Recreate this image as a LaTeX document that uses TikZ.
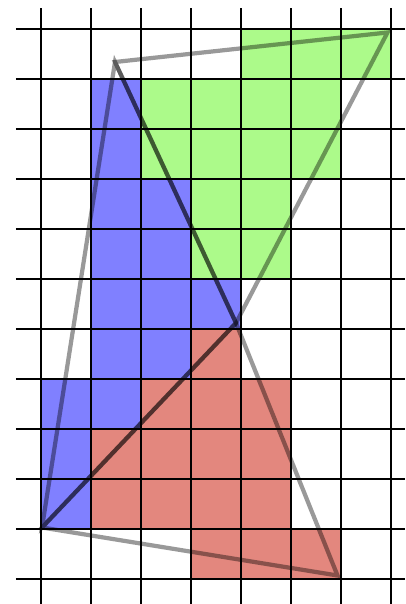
\documentclass[tikz,border=0pt]{standalone}
\definecolor{cellblue}{RGB}{128,128,255}
\definecolor{cellgreen}{RGB}{172,250,138}
\definecolor{cellred}{RGB}{227,135,126}
\begin{document}
\begin{tikzpicture}[edge/.style={line width=2.4pt, black, opacity=0.4}]
    \useasboundingbox (-0.82,-0.5) rectangle (7.28,11.58);
    \clip (-0.82,-0.5) rectangle (7.28,11.58);

    % covered cells
    \foreach \i/\j in {1/9, 1/8, 1/7, 2/7, 1/6, 2/6, 1/5, 2/5, 3/5, 1/4, 2/4, 0/3, 1/3, 0/2, 0/1}
      \fill[cellblue] (\i,\j) rectangle ++(1,1);
    \foreach \i/\j in {4/10, 5/10, 6/10, 2/9, 3/9, 4/9, 5/9, 2/8, 3/8, 4/8, 5/8, 3/7, 4/7, 3/6, 4/6}
      \fill[cellgreen] (\i,\j) rectangle ++(1,1);
    \foreach \i/\j in {3/4, 2/3, 3/3, 4/3, 1/2, 2/2, 3/2, 4/2, 1/1, 2/1, 3/1, 4/1, 3/0, 4/0, 5/0}
      \fill[cellred] (\i,\j) rectangle ++(1,1);

    % grid
    \foreach \x in {0,...,7}
      \draw[line width=1pt] (\x,-0.5) -- (\x,11.42);
    \foreach \y in {0,...,11}
      \draw[line width=1pt] (-0.5,\y) -- (7.5,\y);

    \coordinate (A) at (1.48,10.34);
    \coordinate (B) at (6.93,10.93);
    \coordinate (C) at (0.02,1.03);
    \coordinate (D) at (5.93,0.07);
    \coordinate (E) at (3.9,5.12);

    % triangles
    \draw[edge] (C) -- (A) -- (E) -- cycle;
    \draw[edge] (A) -- (B) -- (E) -- cycle;
    \draw[edge] (C) -- (D) -- (E) -- cycle;

    \draw[line width=1.7pt] (4,4.9) -- (4,5.54);
  \end{tikzpicture}
\end{document}
